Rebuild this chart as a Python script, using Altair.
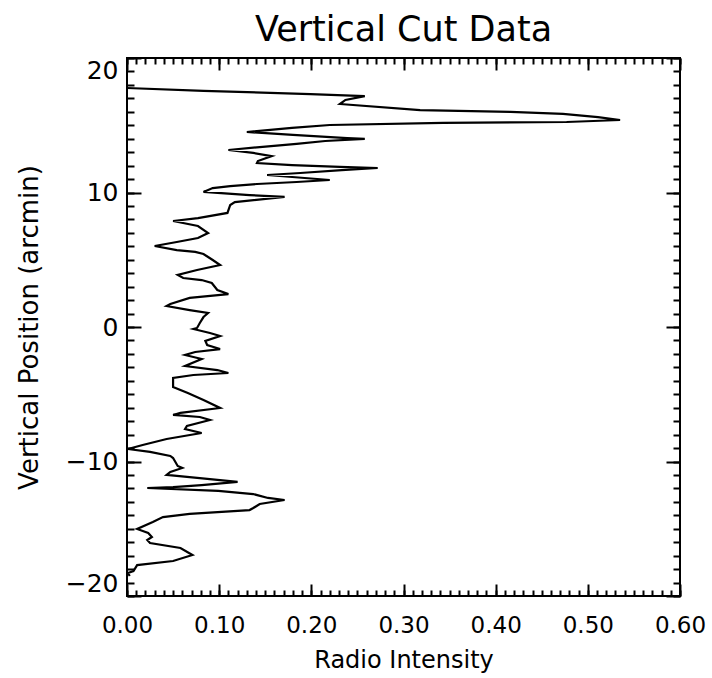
import altair as alt
import pandas as pd

# Radio intensity (x) along the vertical cut, ordered from top to bottom
intensity = [0.000, 0.083, 0.199, 0.258, 0.237, 0.231, 0.318, 0.416, 0.473, 0.511,
             0.535, 0.477, 0.343, 0.220, 0.179, 0.130, 0.180, 0.239, 0.258, 0.215,
             0.184, 0.144, 0.110, 0.137, 0.157, 0.142, 0.141, 0.179, 0.231, 0.272,
             0.233, 0.188, 0.152, 0.220, 0.184, 0.141, 0.112, 0.093, 0.083, 0.133,
             0.171, 0.117, 0.112, 0.109, 0.077, 0.050, 0.077, 0.088, 0.077, 0.054,
             0.030, 0.054, 0.074, 0.083, 0.093, 0.101, 0.076, 0.055, 0.061, 0.081,
             0.092, 0.098, 0.110, 0.068, 0.047, 0.043, 0.068, 0.088, 0.083, 0.079,
             0.076, 0.072, 0.090, 0.101, 0.085, 0.087, 0.101, 0.074, 0.063, 0.081,
             0.063, 0.098, 0.110, 0.072, 0.050, 0.050, 0.066, 0.083, 0.101, 0.058,
             0.050, 0.079, 0.090, 0.065, 0.063, 0.081, 0.043, 0.017, 0.001, 0.025,
             0.047, 0.050, 0.055, 0.060, 0.047, 0.043, 0.079, 0.120, 0.081, 0.050,
             0.022, 0.099, 0.137, 0.153, 0.171, 0.144, 0.137, 0.133, 0.068, 0.039,
             0.028, 0.011, 0.023, 0.027, 0.022, 0.025, 0.058, 0.071, 0.050, 0.011,
             0.007, 0.001, 0.003]

# Vertical position (arcmin)
position = [17.77, 17.55, 17.32, 17.17, 16.88, 16.58, 16.13, 15.99, 15.84, 15.61,
            15.39, 15.24, 15.17, 15.02, 14.80, 14.50, 14.28, 14.05, 13.98, 13.83,
            13.61, 13.38, 13.16, 12.94, 12.71, 12.34, 12.19, 12.04, 11.90, 11.82,
            11.67, 11.45, 11.30, 10.93, 10.78, 10.63, 10.48, 10.33, 10.04, 9.81,
            9.67, 9.29, 9.07, 8.48, 8.10, 7.88, 7.51, 6.99, 6.62, 6.32,
            6.02, 5.72, 5.58, 5.43, 4.98, 4.61, 4.24, 3.87, 3.64, 3.49,
            3.27, 2.75, 2.45, 2.16, 1.71, 1.56, 1.26, 1.04, 0.74, 0.30,
            -0.07, -0.15, -0.45, -0.67, -1.04, -1.34, -1.64, -1.86, -2.08, -2.38,
            -2.90, -3.20, -3.42, -3.57, -3.79, -4.46, -4.91, -5.43, -6.02, -6.39,
            -6.54, -6.69, -6.91, -7.36, -7.58, -7.88, -8.33, -8.77, -9.07, -9.29,
            -9.59, -9.74, -10.33, -10.48, -10.78, -11.00, -11.23, -11.52, -11.75, -11.90,
            -11.97, -12.19, -12.42, -12.71, -12.86, -13.16, -13.46, -13.61, -13.90, -14.13,
            -14.50, -15.02, -15.32, -15.61, -15.84, -16.06, -16.43, -16.95, -17.40, -17.70,
            -18.14, -18.29, -18.51]

x_major = [0.0, 0.1, 0.2, 0.3, 0.4, 0.5, 0.6]
x_minor = [round(k * 0.01, 2) for k in range(61)]
y_major = [-20, -10, 0, 10, 20]
y_minor = list(range(-20, 21))

df = pd.DataFrame({"i": list(range(len(intensity))),
                   "intensity": intensity,
                   "position": position})

FONT = "DejaVu Sans"
W, H = 553, 538
xs = alt.Scale(domain=[0, 0.6], nice=False, zero=False)
ys = alt.Scale(domain=[-20, 20], nice=False, zero=False)


def tick_axis(orient, values, size):
    return alt.Axis(orient=orient, values=values, labels=False, domain=False,
                    grid=False, ticks=True, tickSize=size, offset=-size,
                    tickColor="black", tickWidth=2, title=None)


base = alt.Chart(df)

line = base.mark_line(color="black", strokeWidth=2.2).encode(
    x=alt.X("intensity:Q", scale=xs,
            axis=alt.Axis(orient="bottom", values=x_major, format=".2f",
                          ticks=False, domain=False, grid=False,
                          labelFlush=False, labelPadding=18,
                          labelFont=FONT, labelFontSize=23, labelColor="black",
                          title="Radio Intensity", titleFont=FONT,
                          titleFontSize=24, titleFontWeight="normal",
                          titleColor="black", titlePadding=11)),
    y=alt.Y("position:Q", scale=ys,
            axis=alt.Axis(orient="left", values=y_major, format="d",
                          ticks=False, domain=False, grid=False,
                          labelFlush=True, labelFlushOffset=0, labelPadding=9,
                          labelFont=FONT, labelFontSize=25, labelColor="black",
                          title="Vertical Position (arcmin)", titleFont=FONT,
                          titleFontSize=26, titleFontWeight="normal",
                          titleColor="black", titlePadding=23)),
    order="i:Q",
)


def ghost(xa, ya):
    return base.mark_line(opacity=0).encode(
        x=alt.X("intensity:Q", scale=xs, axis=xa),
        y=alt.Y("position:Q", scale=ys, axis=ya),
        order="i:Q",
    )


layers = [
    line,
    ghost(tick_axis("bottom", x_major, 12), tick_axis("left", y_major, 14)),
    ghost(tick_axis("bottom", x_minor, 6), tick_axis("left", y_minor, 7)),
    ghost(tick_axis("top", x_major, 12), tick_axis("right", y_major, 14)),
    ghost(tick_axis("top", x_minor, 6), tick_axis("right", y_minor, 7)),
]

chart = alt.layer(*layers).resolve_axis(
    x="independent", y="independent"
).resolve_scale(
    x="shared", y="shared"
).properties(
    width=W, height=H,
    title=alt.TitleParams("Vertical Cut Data", font=FONT, fontSize=35,
                          fontWeight="normal", color="black", anchor="middle",
                          offset=9),
    autosize=alt.AutoSizeParams(type="none"),
    padding={"left": 127, "top": 58, "right": 32, "bottom": 82},
    background="white",
).configure_view(stroke="black", strokeWidth=2)

chart.save("out.html", embed_options={"renderer": "svg", "actions": False})
